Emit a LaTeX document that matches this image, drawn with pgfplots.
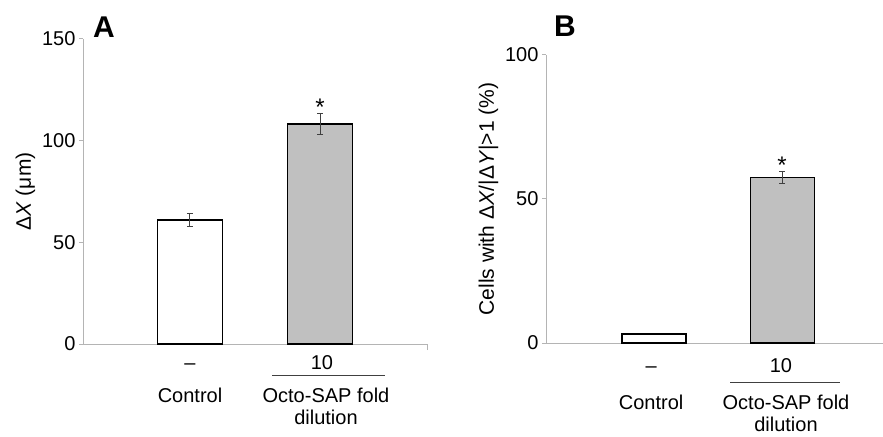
\documentclass[border=0pt]{standalone}
\usepackage{fontspec}
\setmainfont{Liberation Sans}
\usepackage{pgfplots}
\pgfplotsset{compat=1.18}
\definecolor{axgray}{HTML}{B4B4B4}
\definecolor{barfill}{HTML}{C0C0C0}
\definecolor{errgray}{HTML}{404040}
\newcommand{\lbl}{\fontsize{20bp}{24bp}\selectfont}
\pgfplotsset{
  panel/.style={
    scale only axis, axis lines*=left,
    axis line style={axgray, line width=1bp},
    ymin=0, tick align=outside, major tick length=4bp,
    tick style={axgray, line width=1bp},
    xtick=\empty, clip=false,
    ticklabel style={font=\lbl, text=black},
    /pgf/number format/assume math mode=true,
    ylabel style={font=\fontsize{21bp}{25bp}\selectfont},
    error bars/error bar style={errgray, line width=1bp},
    error bars/error mark options={errgray, line width=1bp, mark size=3bp, rotate=90},
  }
}
\begin{document}
\begin{tikzpicture}
\useasboundingbox (0,0) rectangle (883bp,437bp);
% Panel A
\begin{axis}[panel, at={(83bp,93bp)}, anchor=south west,
  width=344bp, height=305bp, xmin=-0.823, xmax=1.823, ymax=150,
  ytick={0,50,100,150}, ylabel={Δ\textit{X} (μm)},
  extra x ticks={1.823}, extra x tick labels={},
  extra x tick style={major tick length=6bp}]
\addplot[ybar, bar width=65bp, bar shift=0pt, fill=white, draw=black, line width=1.2bp,
  error bars/.cd, y dir=both, y explicit] coordinates {(0,61) +- (0,3.2)};
\addplot[ybar, bar width=65bp, bar shift=0pt, fill=barfill, draw=black, line width=1.2bp,
  error bars/.cd, y dir=both, y explicit] coordinates {(1,108.2) +- (0,5.4)};
\node[anchor=base, font=\fontsize{24bp}{24bp}\selectfont] at (axis cs:1,112.6) {*};
\node[anchor=base, font=\lbl] at ([yshift=-25bp]axis cs:0,0) {–};
\node[anchor=base, font=\lbl] at ([yshift=-25bp]axis cs:1.015,0) {10};
\draw[errgray, line width=1bp] ([yshift=-31bp]axis cs:0.631,0) -- ([yshift=-31bp]axis cs:1.5,0);
\node[anchor=base, font=\lbl] at ([yshift=-58bp]axis cs:0,0) {Control};
\node[anchor=base, font=\lbl] at ([yshift=-58bp]axis cs:1.046,0) {Octo-SAP fold};
\node[anchor=base, font=\lbl] at ([yshift=-80bp]axis cs:1.046,0) {dilution};
\end{axis}
% Panel B
\begin{axis}[panel, at={(546bp,94bp)}, anchor=south west,
  width=345bp, height=288bp, xmin=-0.844, xmax=1.85, ymax=100,
  ytick={0,50,100}, ylabel={Cells with Δ\textit{X}/|Δ\textit{Y}|>1 (\%)}]
\addplot[ybar, bar width=64bp, bar shift=0pt, fill=white, draw=black, line width=1.2bp]
  coordinates {(0,3.1)};
\addplot[ybar, bar width=64bp, bar shift=0pt, fill=barfill, draw=black, line width=1.2bp,
  error bars/.cd, y dir=both, y explicit] coordinates {(1,57.6) +- (0,2.05)};
\node[anchor=base, font=\fontsize{24bp}{24bp}\selectfont] at (axis cs:1,58.7) {*};
\node[anchor=base, font=\lbl] at ([yshift=-29bp]axis cs:-0.023,0) {–};
\node[anchor=base, font=\lbl] at ([yshift=-29bp]axis cs:0.99,0) {10};
\draw[errgray, line width=1bp] ([yshift=-39bp]axis cs:0.594,0) -- ([yshift=-39bp]axis cs:1.453,0);
\node[anchor=base, font=\lbl] at ([yshift=-66bp]axis cs:-0.023,0) {Control};
\node[anchor=base, font=\lbl] at ([yshift=-66bp]axis cs:1.03,0) {Octo-SAP fold};
\node[anchor=base, font=\lbl] at ([yshift=-88bp]axis cs:1.03,0) {dilution};
\end{axis}
\node[anchor=base, font=\fontsize{30bp}{30bp}\selectfont\bfseries] at (104bp,399bp) {A};
\node[anchor=base, font=\fontsize{30bp}{30bp}\selectfont\bfseries] at (565bp,400bp) {B};
\end{tikzpicture}
\end{document}
